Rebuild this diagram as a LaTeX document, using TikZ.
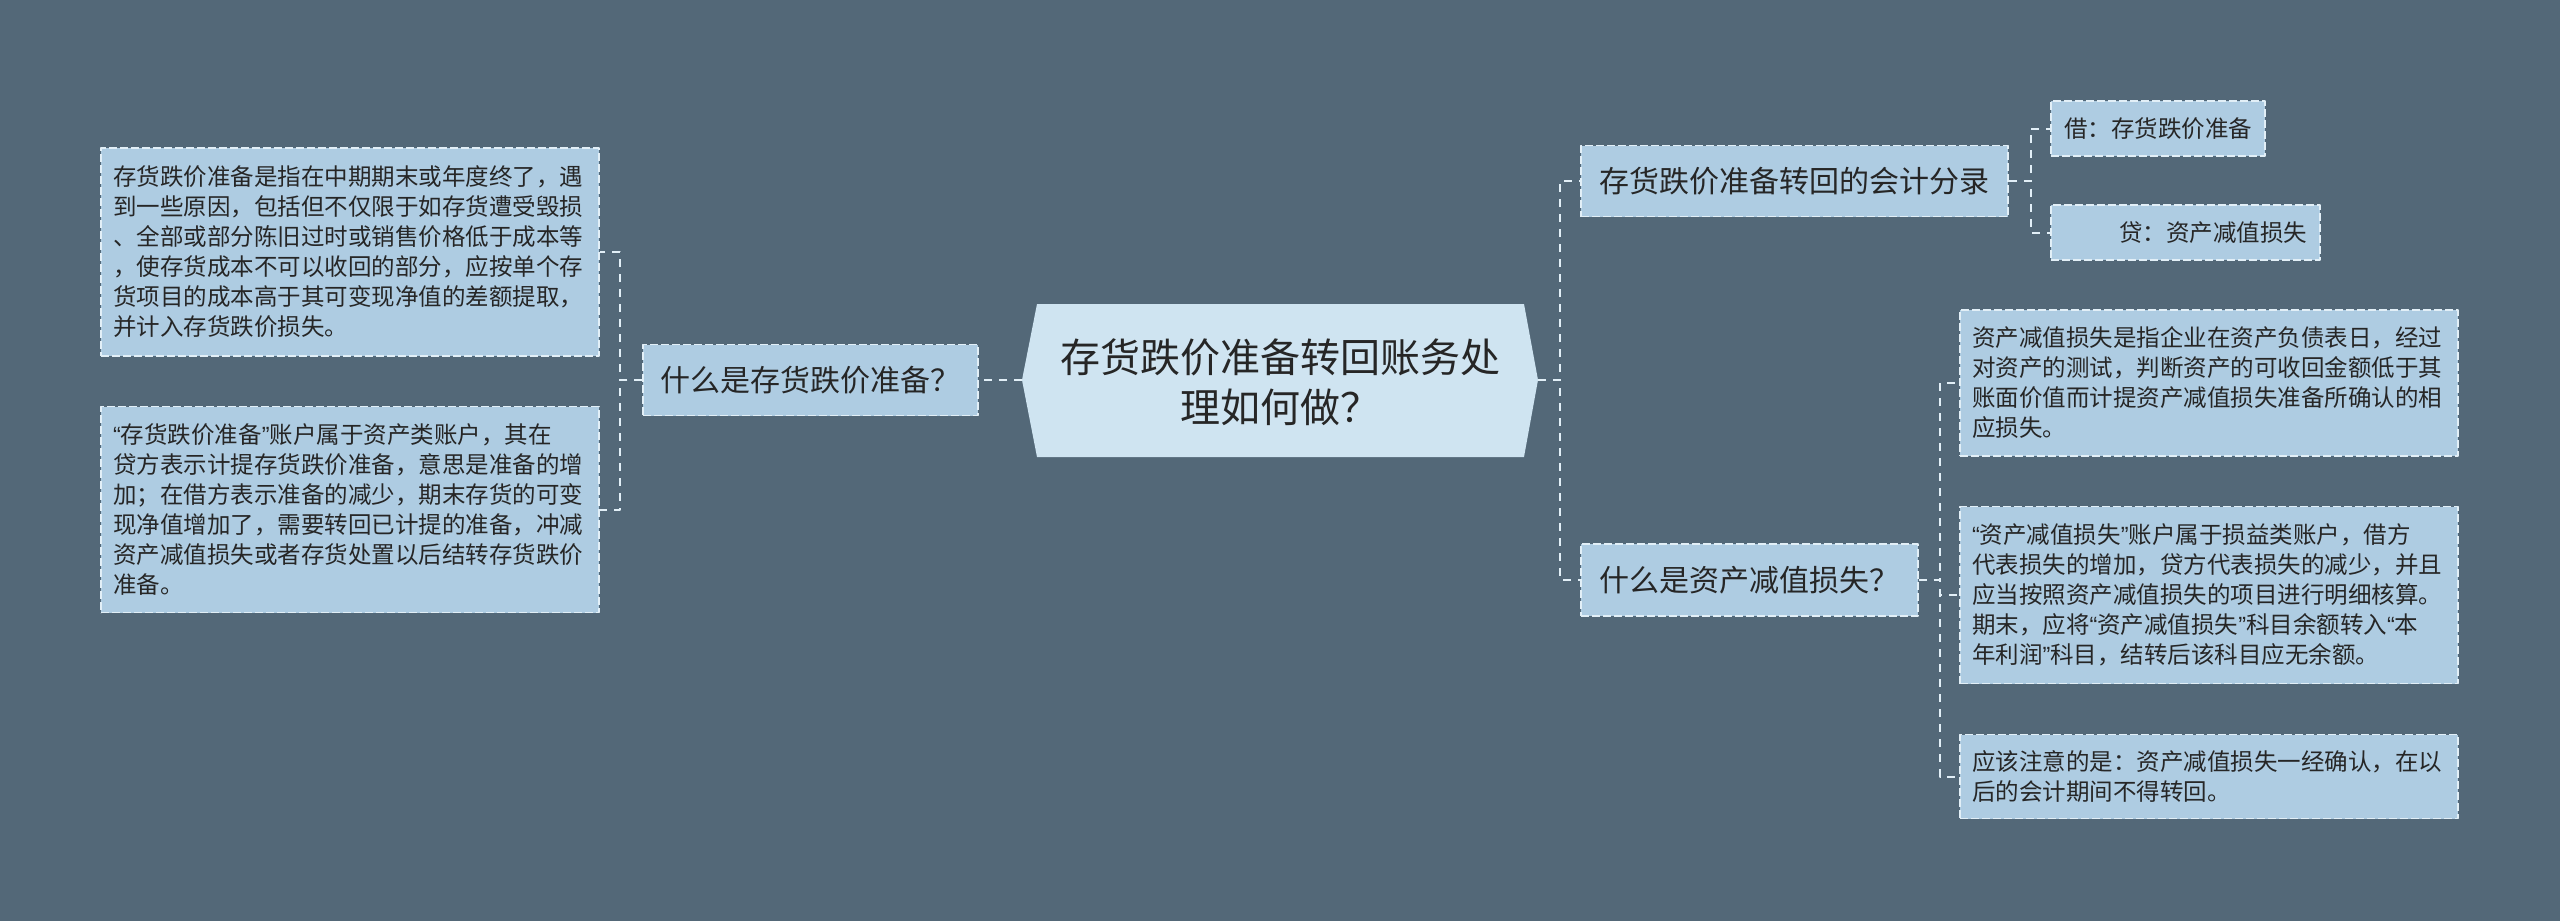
\documentclass[tikz,border=0pt]{standalone}
\usepackage{fontspec}
\setmainfont{Noto Sans CJK SC}
\newfontfamily\quotefont{Liberation Sans}
\newcommand\qtL{{\quotefont “}}
\newcommand\qtR{{\quotefont ”}}
\definecolor{bgC}{RGB}{83,104,120}
\definecolor{boxC}{RGB}{174,204,226}
\definecolor{rootC}{RGB}{207,228,241}
\definecolor{lineC}{RGB}{226,239,247}
\definecolor{txtC}{RGB}{38,38,38}
\begin{document}
\begin{tikzpicture}[x=1pt, y=-1pt, line join=round,
    linkline/.style={draw=lineC, line width=2pt, dash pattern=on 8pt off 7pt},
    boxbase/.style={draw=lineC, line width=1.5pt, dash pattern=on 8pt off 3pt, fill=boxC, text=txtC, inner sep=0pt},
    leaf/.style={boxbase, text width=474, align=left, minimum width=498, font=\fontsize{23.5}{30}\selectfont},
    branch/.style={boxbase, minimum height=71, font=\fontsize{30}{36}\selectfont},
    entryitem/.style={boxbase, minimum height=55, font=\fontsize{23.5}{28}\selectfont}]
        \fill[bgC] (0,0) rectangle (2560,921);
        \useasboundingbox (0,0) rectangle (2560,921);
        \fill[rootC] (1022,380) coordinate (rootW) -- (1037,304) -- (1524,304) -- (1538,380) coordinate (rootE)
            -- (1524,457) -- (1037,457) -- cycle;
        \node[text=txtC, align=center, font=\fontsize{40}{50}\selectfont] (root) at (1280,382) {存货跌价准备转回账务处\\理如何做？};
        \node[branch, minimum width=335] (whatInv) at (810.5,380) {什么是存货跌价准备？};
        \node[leaf, minimum height=208] (invDef1) at (350,252) {存货跌价准备是指在中期期末或年度终了，遇\\到一些原因，包括但不仅限于如存货遭受毁损\\、全部或部分陈旧过时或销售价格低于成本等\\，使存货成本不可以收回的部分，应按单个存\\货项目的成本高于其可变现净值的差额提取，\\并计入存货跌价损失。};
        \node[leaf, minimum height=206] (invDef2) at (350,509.5) {\qtL 存货跌价准备\qtR 账户属于资产类账户，其在\\贷方表示计提存货跌价准备，意思是准备的增\\加；在借方表示准备的减少，期末存货的可变\\现净值增加了，需要转回已计提的准备，冲减\\资产减值损失或者存货处置以后结转存货跌价\\准备。};
        \node[branch, minimum width=427] (entry) at (1794.5,181) {存货跌价准备转回的会计分录};
        \node[entryitem, minimum width=214] (debit) at (2158,128.5) {借：存货跌价准备};
        \node[entryitem, minimum width=269, text width=243, align=right] (credit) at (2185.5,232.5) {贷：资产减值损失};
        \node[branch, minimum width=337, minimum height=72] (whatImp) at (1749.5,580) {什么是资产减值损失？};
        \node[leaf, minimum height=146] (impA) at (2209,383) {资产减值损失是指企业在资产负债表日，经过\\对资产的测试，判断资产的可收回金额低于其\\账面价值而计提资产减值损失准备所确认的相\\应损失。};
        \node[leaf, minimum height=177] (impB) at (2209,595) {\qtL 资产减值损失\qtR 账户属于损益类账户，借方\\代表损失的增加，贷方代表损失的减少，并且\\应当按照资产减值损失的项目进行明细核算。\\期末，应将\qtL 资产减值损失\qtR 科目余额转入\qtL 本\\年利润\qtR 科目，结转后该科目应无余额。};
        \node[leaf, minimum height=84] (impC) at (2209,776.5) {应该注意的是：资产减值损失一经确认，在以\\后的会计期间不得转回。};
        \draw[linkline] (rootW) -- (whatInv.east);
        \draw[linkline] (whatInv.west) -- +(-22,0) |- (invDef1.east);
        \draw[linkline] (whatInv.west) -- +(-22,0) |- (invDef2.east);
        \draw[linkline] (rootE) -- +(22,0) |- (entry.west);
        \draw[linkline] (rootE) -- +(22,0) |- (whatImp.west);
        \draw[linkline] (entry.east) -- +(22,0) |- (debit.west);
        \draw[linkline] (entry.east) -- +(22,0) |- (credit.west);
        \draw[linkline] (whatImp.east) -- +(21,0) |- (impA.west);
        \draw[linkline] (whatImp.east) -- +(21,0) |- (impB.west);
        \draw[linkline] (whatImp.east) -- +(21,0) |- (impC.west);
\end{tikzpicture}
\end{document}
